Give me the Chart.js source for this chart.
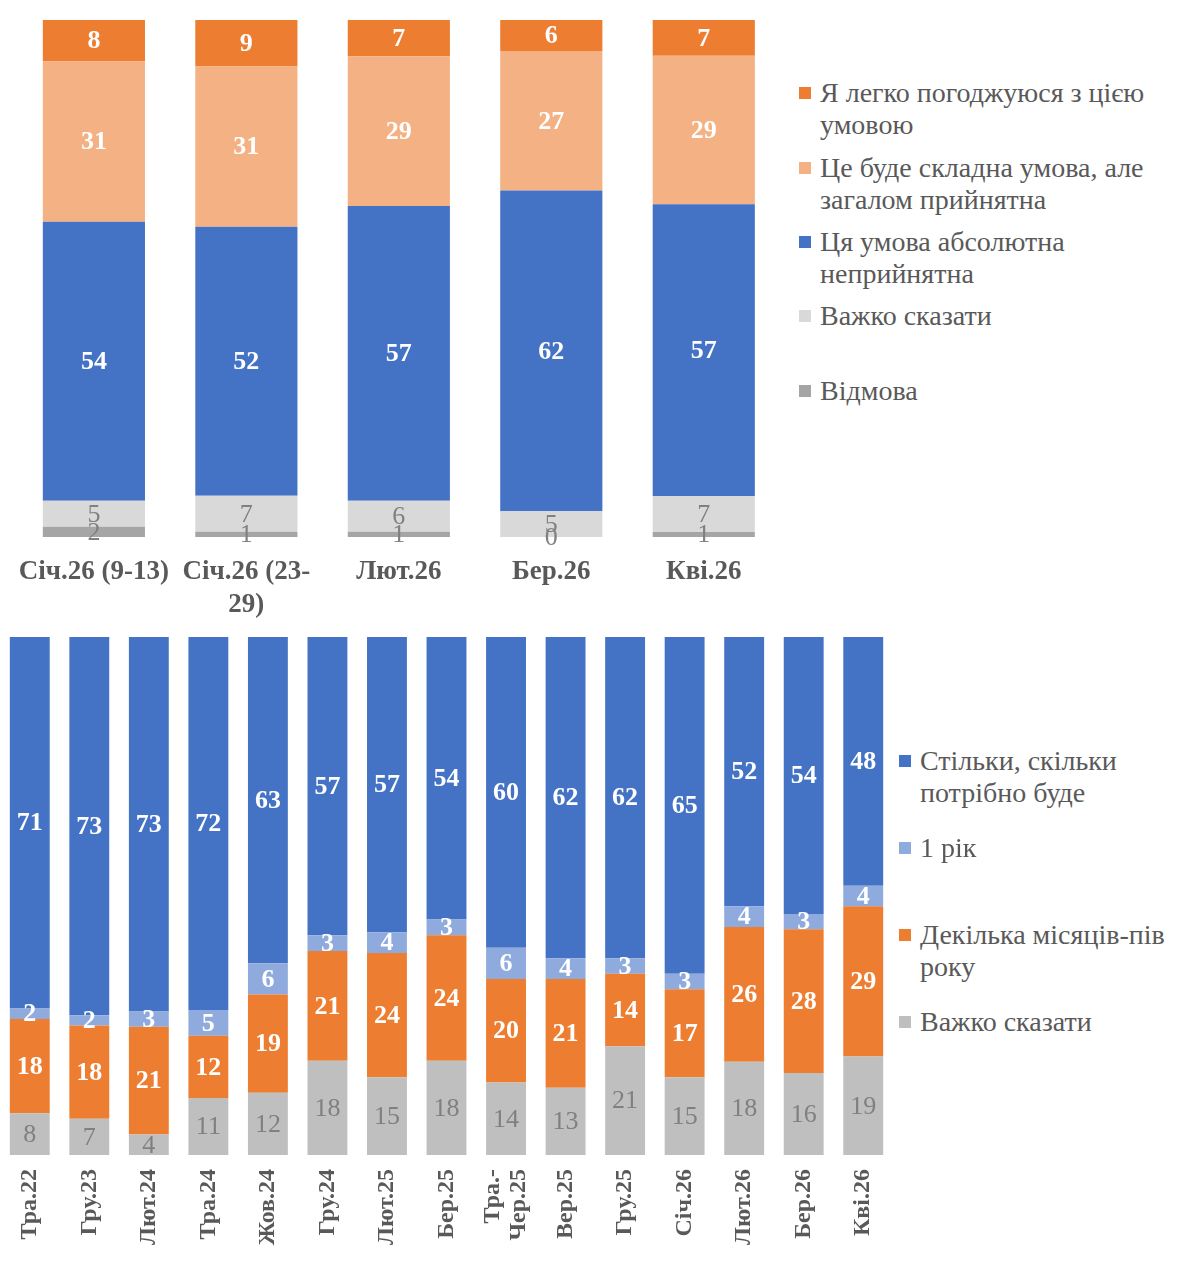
<!DOCTYPE html>
<html>
<head>
<meta charset="utf-8">
<script src="https://cdn.jsdelivr.net/npm/chart.js@4"></script>
<style>
  body { margin: 0; background: #fff; width: 1188px; height: 1280px; position: relative; overflow: hidden; font-family: 'Liberation Serif', serif; }
  canvas { position: absolute; left: 0; }
  .legend { position: absolute; color: #595959; font-size: 28px; line-height: 32px; }
  .legend .item { position: absolute; left: 0; white-space: nowrap; }
  .legend .sw { position: absolute; left: -21px; top: 10px; width: 12px; height: 12px; }
</style>
</head>
<body>
<canvas id="top" width="792" height="620" style="top:0;left:-2px"></canvas>
<canvas id="bottom" width="905" height="660" style="top:600px"></canvas>
<div class="legend" id="leg1" style="left:820px;top:0"></div>
<div class="legend" id="leg2" style="left:920px;top:0"></div>
<script>
// ---- верхній графік ----
const cats1 = ['Січ.26 (9-13)', ['Січ.26 (23-', '29)'], 'Лют.26', 'Бер.26', 'Кві.26'];
const easyAgree    = [8, 9, 7, 6, 7];
const hardButOk    = [31, 31, 29, 27, 29];
const unacceptable = [54, 52, 57, 62, 57];
const dontKnow1    = [5, 7, 6, 5, 7];
const refuse1      = [2, 1, 1, 0, 1];

// ---- нижній графік ----
const cats2 = ['Тра.22', 'Гру.23', 'Лют.24', 'Тра.24', 'Жов.24', 'Гру.24', 'Лют.25', 'Бер.25',
               ['Тра.-', 'Чер.25'], 'Вер.25', 'Гру.25', 'Січ.26', 'Лют.26', 'Бер.26', 'Кві.26'];
const asLongAsNeeded = [71, 73, 73, 72, 63, 57, 57, 54, 60, 62, 62, 65, 52, 54, 48];
const oneYear        = [2, 2, 3, 5, 6, 3, 4, 3, 6, 4, 3, 3, 4, 3, 4];
const fewMonths      = [18, 18, 21, 12, 19, 21, 24, 24, 20, 21, 14, 17, 26, 28, 29];
const dontKnow2      = [8, 7, 4, 11, 12, 18, 15, 18, 14, 13, 21, 15, 18, 16, 19];

const SERIF = "'Liberation Serif', serif";
const WHITE_LBL = { color: '#ffffff', font: 'bold 26px ' + SERIF };
const GRAY_LBL  = { color: '#808080', font: '26px ' + SERIF };

// 100% stacked, як в Excel
function pct(series) {
  return series.map(s => s.map((v, i) => {
    const tot = series.reduce((acc, ss) => acc + ss[i], 0);
    return v / tot * 100;
  }));
}

const valueLabels = {
  id: 'valueLabels',
  afterDatasetsDraw(chart) {
    const ctx = chart.ctx;
    ctx.save();
    ctx.textAlign = 'center';
    ctx.textBaseline = 'middle';
    chart.data.datasets.forEach((ds, di) => {
      const meta = chart.getDatasetMeta(di);
      meta.data.forEach((bar, i) => {
        const p = bar.getProps(['x', 'y', 'base'], true);
        ctx.fillStyle = ds.lbl.color;
        ctx.font = ds.lbl.font;
        ctx.fillText(ds.raw[i], p.x, (p.y + p.base) / 2 + 1);
      });
    });
    ctx.restore();
  }
};

// повернуті дворядкові підписи — центруємо по стовпчику
const centerRotated = {
  id: 'centerRotated',
  beforeDraw(chart) {
    const sc = chart.scales.x;
    const t = sc.options.ticks;
    if (!t.maxRotation) return;
    const lh = t.font.size * t.font.lineHeight;
    sc.getLabelItems().forEach(it => {
      if (Array.isArray(it.label) && it.label.length > 1 && !it._shifted) {
        it.options.translation[0] -= (it.label.length - 1) * lh / 2;
        it._shifted = true;
      }
    });
  }
};

function makeChart(id, labels, sets, opts) {
  const norm = pct(sets.map(s => s.raw));
  return new Chart(document.getElementById(id), {
    type: 'bar',
    data: {
      labels,
      datasets: sets.map((s, k) => ({
        label: s.name.replace('\n', ' '),
        raw: s.raw,
        lbl: s.lbl,
        data: norm[k],
        backgroundColor: s.color,
        borderWidth: 0,
        categoryPercentage: 1,
        barPercentage: 0.67,
      }))
    },
    options: {
      responsive: false,
      animation: false,
      layout: { padding: opts.padding },
      plugins: { legend: { display: false }, tooltip: { enabled: false } },
      scales: {
        x: {
          stacked: true,
          grid: { display: false, drawTicks: false },
          border: { display: false },
          afterFit: sc => { sc.height = opts.axisH; },
          ticks: {
            color: '#595959',
            autoSkip: false,
            padding: opts.tickPad,
            minRotation: opts.rot, maxRotation: opts.rot,
            font: { family: SERIF, size: opts.tickSize, weight: 'bold', lineHeight: opts.tickLH }
          }
        },
        y: { stacked: true, min: 0, max: 100, display: false }
      }
    },
    plugins: [valueLabels, centerRotated]
  });
}

function makeLegend(id, sets, tops) {
  const el = document.getElementById(id);
  sets.forEach((s, k) => {
    const it = document.createElement('div');
    it.className = 'item';
    it.style.top = (tops[k] - 16) + 'px';
    it.innerHTML = '<span class="sw" style="background:' + s.color + '"></span>' + s.name.replace('\n', '<br>');
    el.appendChild(it);
  });
}

const top1 = [
  { name: 'Відмова', raw: refuse1, color: '#a5a5a5', lbl: GRAY_LBL },
  { name: 'Важко сказати', raw: dontKnow1, color: '#d9d9d9', lbl: GRAY_LBL },
  { name: 'Ця умова абсолютна\nнеприйнятна', raw: unacceptable, color: '#4472c4', lbl: WHITE_LBL },
  { name: 'Це буде складна умова, але\nзагалом прийнятна', raw: hardButOk, color: '#f4b183', lbl: WHITE_LBL },
  { name: 'Я легко погоджуюся з цією\nумовою', raw: easyAgree, color: '#ed7d31', lbl: WHITE_LBL },
];
const bot2 = [
  { name: 'Важко сказати', raw: dontKnow2, color: '#bfbfbf', lbl: GRAY_LBL },
  { name: 'Декілька місяців-пів\nроку', raw: fewMonths, color: '#ed7d31', lbl: WHITE_LBL },
  { name: '1 рік', raw: oneYear, color: '#8faadc', lbl: WHITE_LBL },
  { name: 'Стільки, скільки\nпотрібно буде', raw: asLongAsNeeded, color: '#4472c4', lbl: WHITE_LBL },
];

makeChart('top', cats1, top1, { padding: { top: 20, left: 18, right: 10, bottom: 0 }, axisH: 83, tickPad: 19, rot: 0, tickSize: 27, tickLH: 1.2 });
makeChart('bottom', cats2, bot2, { padding: { top: 37, left: 0, right: 12, bottom: 0 }, axisH: 105, tickPad: 14, rot: 90, tickSize: 24, tickLH: 1.1 });

makeLegend('leg1', top1.slice().reverse(), [93, 168, 242, 316, 391]);
makeLegend('leg2', bot2.slice().reverse(), [761, 848, 935, 1022]);
</script>
</body>
</html>
